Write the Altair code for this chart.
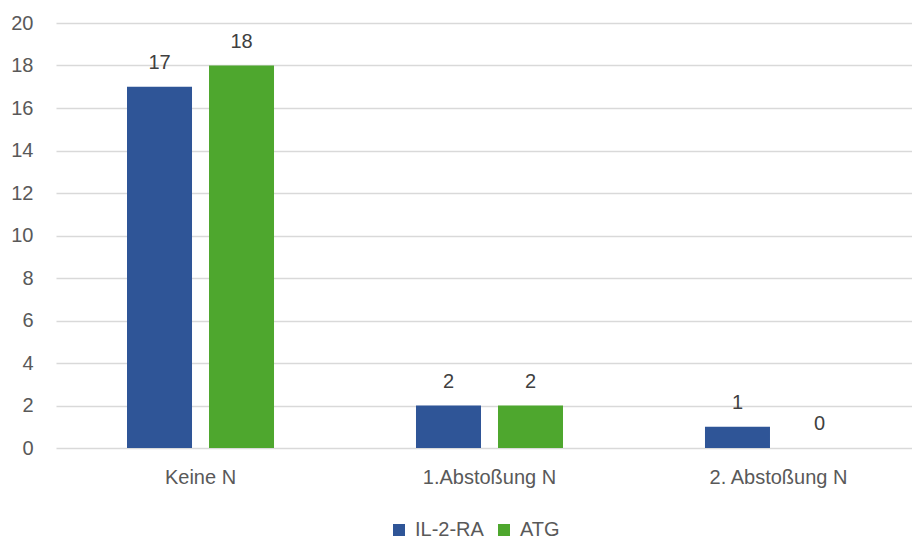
import altair as alt
import pandas as pd

categories = ["Keine N", "1.Abstoßung N", "2. Abstoßung N"]
series = ["IL-2-RA", "ATG"]
il2ra = [17, 2, 1]
atg = [18, 2, 0]
colors = ["#2F5597", "#4EA72E"]

rows = []
for cat, a, b in zip(categories, il2ra, atg):
    rows.append({"Kategorie": cat, "Gruppe": series[0], "Wert": a})
    rows.append({"Kategorie": cat, "Gruppe": series[1], "Wert": b})
df = pd.DataFrame(rows)

FONT = "Liberation Sans"
TXT = "#595959"

x = alt.X(
    "Kategorie:N",
    sort=categories,
    title=None,
    scale=alt.Scale(range=[0, 867], paddingInner=0.4913, paddingOuter=0.2457),
    axis=alt.Axis(labelAngle=0, domain=False, ticks=False, labelPadding=19,
                  labelFontSize=20, labelColor=TXT, labelFont=FONT),
)
xo = alt.XOffset(
    "Gruppe:N", sort=series,
    scale=alt.Scale(paddingInner=0.2073, paddingOuter=0),
)
y = alt.Y(
    "Wert:Q",
    title=None,
    scale=alt.Scale(domain=[0, 20], nice=False),
    axis=alt.Axis(values=list(range(0, 21, 2)), domain=False, ticks=False,
                  labelPadding=23, labelFontSize=20, labelColor=TXT, labelFont=FONT,
                  gridColor="#D9D9D9", gridWidth=1.3),
)
color = alt.Color(
    "Gruppe:N", sort=series,
    scale=alt.Scale(domain=series, range=colors),
    legend=alt.Legend(title=None, orient="none", direction="horizontal",
                      legendX=333, legendY=497, symbolType="square", symbolSize=144,
                      symbolStrokeWidth=0, labelFontSize=20, labelColor=TXT,
                      labelFont=FONT, labelOffset=6, columnPadding=10),
)

bars = alt.Chart(df).mark_bar().encode(x=x, xOffset=xo, y=y, color=color)
labels = alt.Chart(df).mark_text(
    baseline="bottom", dy=-14, fontSize=20, color="#404040", font=FONT
).encode(x=x, xOffset=xo, y=y, text="Wert:Q")

chart = (
    alt.layer(bars, labels)
    .properties(
        width=854, height=425,
        autosize=alt.AutoSizeParams(type="none"),
        padding={"left": 56, "top": 23, "right": 2, "bottom": 90},
    )
    .configure_view(stroke=None)
)

chart.save("out.html", embed_options={"renderer": "svg", "actions": False})
